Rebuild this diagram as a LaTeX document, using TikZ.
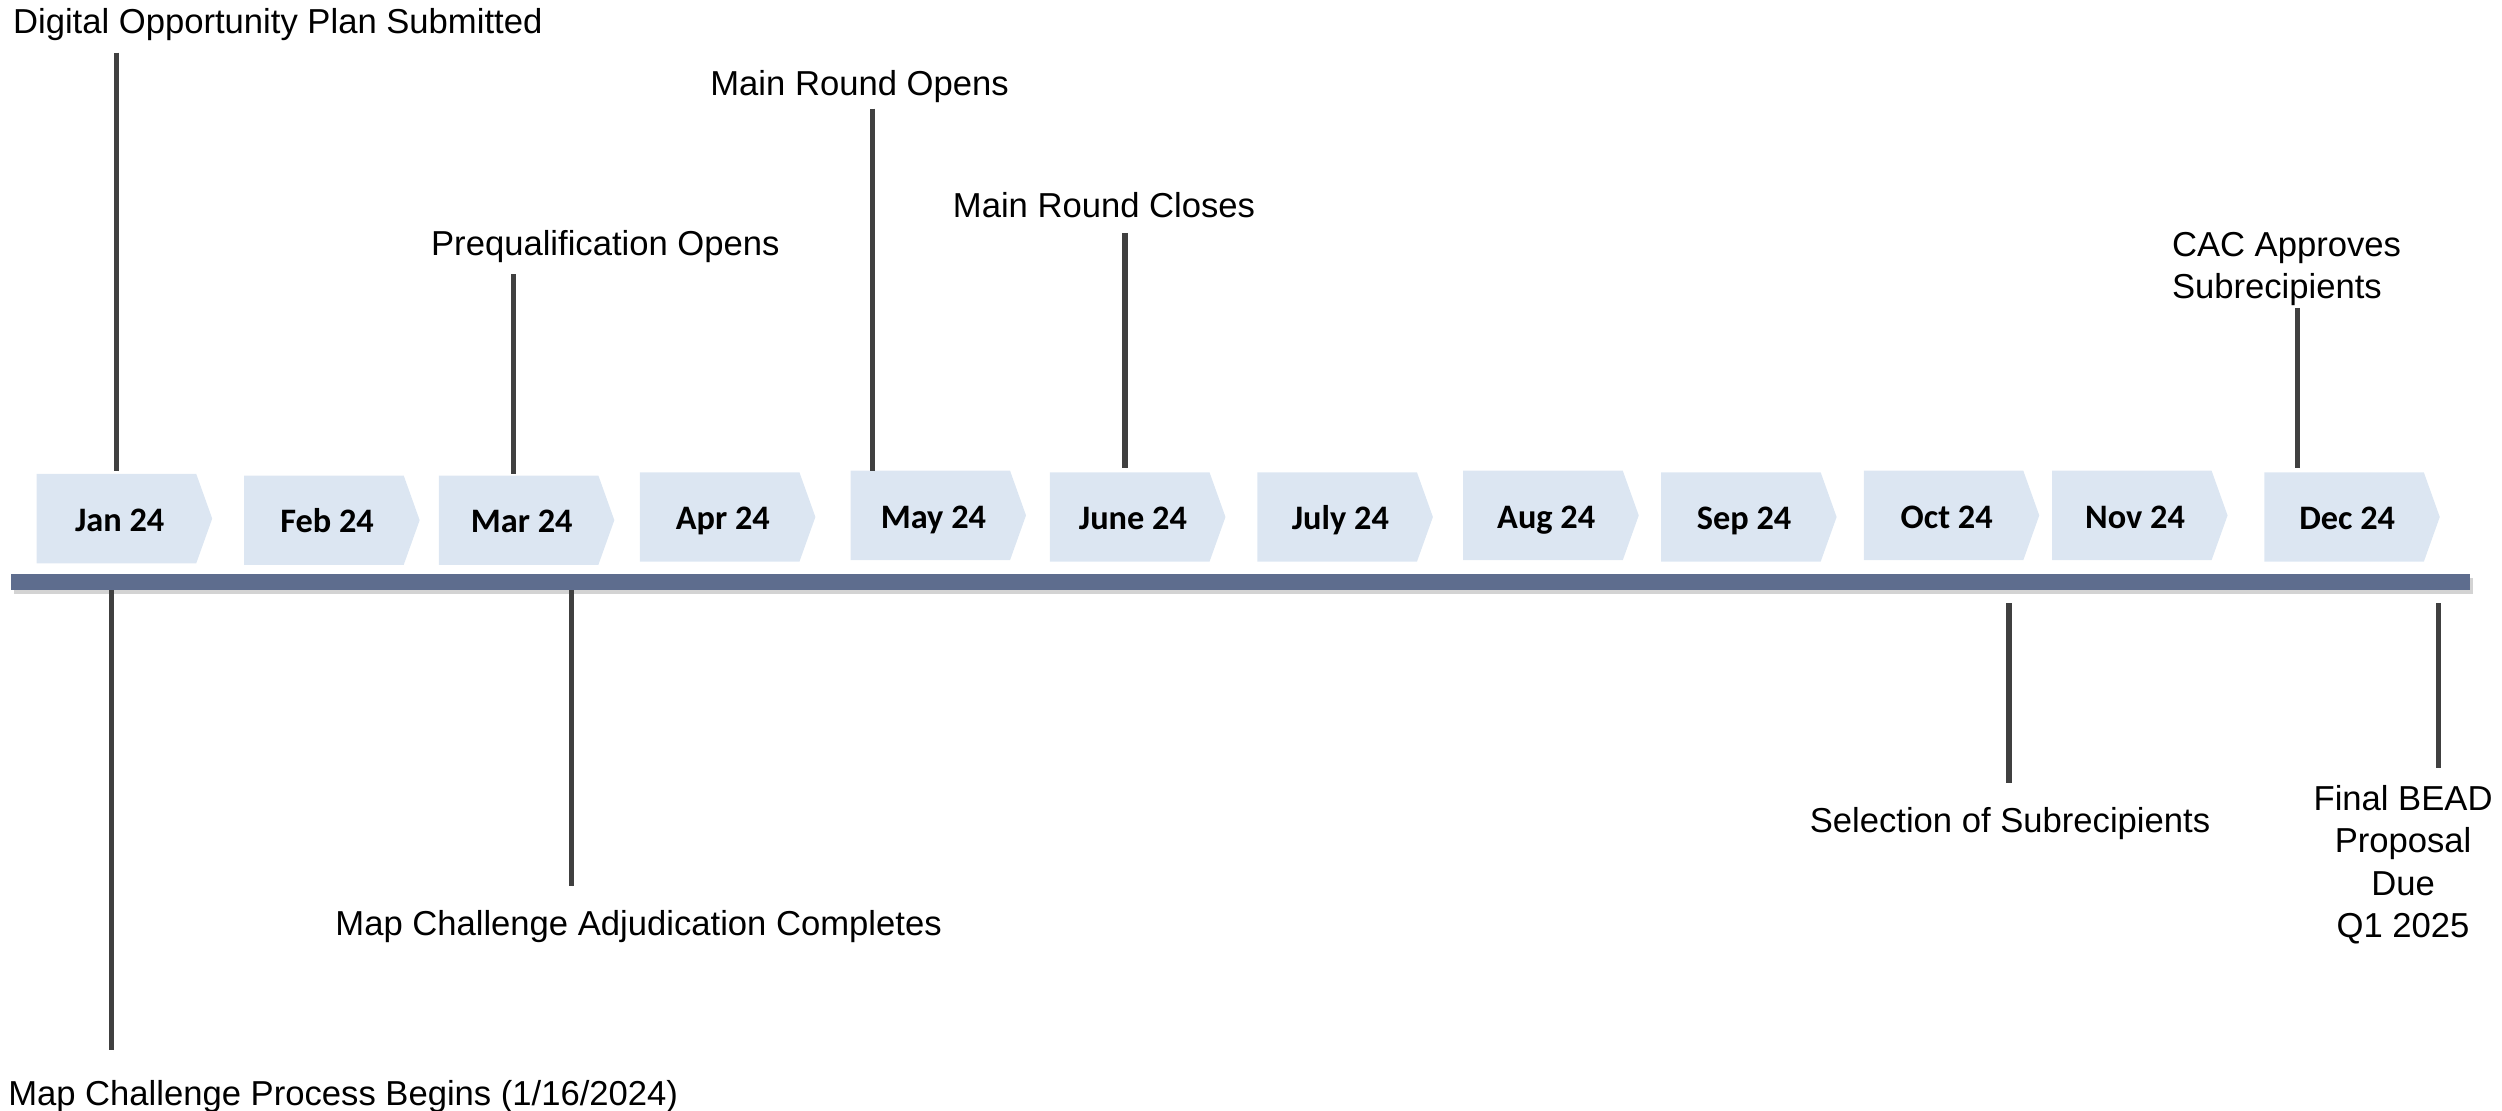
\documentclass[tikz,border=0pt]{standalone}
\usepackage{fontspec}
\setmainfont{Liberation Sans}
\newfontfamily\monthfont{Carlito}
\usetikzlibrary{shadows}
\definecolor{boxfill}{RGB}{220,230,242}
\definecolor{barcol}{RGB}{94,109,142}
\definecolor{linecol}{RGB}{64,64,64}
\begin{document}
\begin{tikzpicture}[x=1pt,y=-1pt,
  chevron/.style={fill=boxfill},
  monthlbl/.style={font=\monthfont\fontsize{21.5}{24}\selectfont\bfseries,inner sep=0pt},
  evt/.style={font=\fontsize{21.7}{26.5}\selectfont,inner sep=0pt,anchor=base west},
  evtc/.style={font=\fontsize{21.7}{26.5}\selectfont,inner sep=0pt,align=center,anchor=north},
  tick/.style={draw=linecol,line width=3.2pt,drop shadow={opacity=0.25,shadow xshift=1pt,shadow yshift=-1pt}}]
\useasboundingbox (0,0) rectangle (1568,696);
% bar
\fill[barcol,drop shadow={opacity=0.35,shadow xshift=1.5pt,shadow yshift=-2.5pt}] (7,360) rectangle (1548,370);
% month chevrons
\foreach \nm/\x/\y/\t in {jan/23/297/Jan 24, feb/153/298/Feb 24, mar/275/298/Mar 24, apr/401/296/Apr 24,
  may/533/295/May 24, jun/658/296/June 24, jul/788/296/July 24, aug/917/295/Aug 24,
  sep/1041/296/Sep 24, oct/1168/295/Oct 24, nov/1286/295/Nov 24, dec/1419/296/Dec 24}{
  \fill[chevron] (\x,\y) -- ++(100,0) -- ++(10,28) -- ++(-10,28) -- ++(-100,0) -- cycle;
  \node[monthlbl,anchor=base] (\nm) at (\x+52,\y+36) {\t};
}
% event labels above
\node[evt] (dop) at (8,21) {Digital Opportunity Plan Submitted};
\node[evt] (mro) at (445,60) {Main Round Opens};
\node[evt] (pqo) at (270,160) {Prequalification Opens};
\node[evt] (mrc) at (597,136) {Main Round Closes};
\node[evt,align=left,anchor=base west] (cac) at (1361,187) {CAC Approves\\Subrecipients};
% event labels below
\node[evt] (mcp) at (5,693) {Map Challenge Process Begins (1/16/2024)};
\node[evt] (mca) at (210,586) {Map Challenge Adjudication Completes};
\node[evt] (sel) at (1134,522) {Selection of Subrecipients};
\node[evtc] (fbp) at (1506,492) {Final BEAD\\Proposal\\Due\\Q1 2025};
% tick coordinates
\coordinate (t1a) at (73,33);   \coordinate (t1b) at (73,295);
\coordinate (t2a) at (322,172); \coordinate (t2b) at (322,297);
\coordinate (t3a) at (547,68);  \coordinate (t3b) at (547,295);
\coordinate (t4a) at (705,146); \coordinate (t4b) at (705,293);
\coordinate (t5a) at (1440,193);\coordinate (t5b) at (1440,293);
\coordinate (b1a) at (70,370);  \coordinate (b1b) at (70,658);
\coordinate (b2a) at (358,370); \coordinate (b2b) at (358,555);
\coordinate (b3a) at (1259,378);\coordinate (b3b) at (1259,491);
\coordinate (b4a) at (1528,378);\coordinate (b4b) at (1528,481);
\foreach \a/\b in {t1a/t1b,t2a/t2b,t3a/t3b,t4a/t4b,t5a/t5b,b1a/b1b,b2a/b2b,b3a/b3b,b4a/b4b}
  \path[tick] (\a) -- (\b);
\end{tikzpicture}
\end{document}
